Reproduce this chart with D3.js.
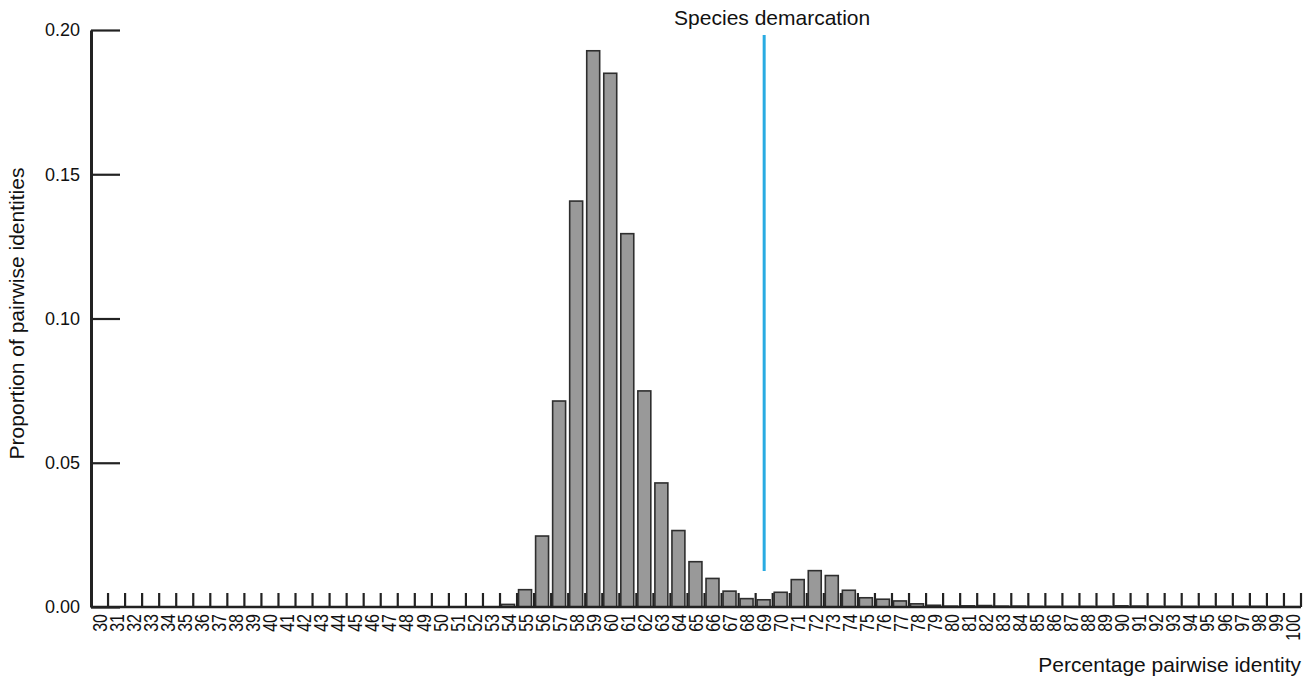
<!DOCTYPE html>
<html lang="en">
<head>
    <meta charset="UTF-8">
    <title>Pairwise identity</title>
    <script src="https://cdnjs.cloudflare.com/ajax/libs/d3/7.8.0/d3.min.js"></script>
    <style>
        body { margin: 0; background: #fff; }
        text { font-family: "Liberation Sans", Arial, sans-serif; fill: #111; }
    </style>
</head>
<body>
    <svg id="viz" width="1314" height="684"></svg>
    <script>
        // percentage identity categories 30..100
        const identities = d3.range(30, 101);
        // proportion of pairwise identities
        const proportions = [
            0, 0, 0, 0, 0, 0, 0, 0, 0, 0,              // 30-39
            0, 0, 0, 0, 0, 0, 0, 0, 0, 0,              // 40-49
            0, 0, 0, 0, 0.0009, 0.006, 0.0246, 0.0714, 0.1407, 0.1928, // 50-59
            0.185, 0.1294, 0.0749, 0.043, 0.0265, 0.0157, 0.0099, 0.0055, 0.0029, 0.0025, // 60-69
            0.0051, 0.0095, 0.0126, 0.0109, 0.0058, 0.0032, 0.0027, 0.0021, 0.0011, 0.0006, // 70-79
            0.0003, 0.0004, 0.0005, 0.0003, 0.0003, 0.0002, 0.0002, 0.0002, 0.0002, 0.0002, // 80-89
            0.0004, 0.0003, 0.0002, 0.0002, 0.0002, 0.0002, 0.0002, 0.0002, 0.0002, 0.0001, // 90-99
            0.0001                                      // 100
        ];
        const yTicks = [0, 0.05, 0.10, 0.15, 0.20];
        const demarcation = 69;

        const data = identities.map((k, i) => ({ k: k, v: proportions[i] }));

        const svg = d3.select('#viz');
        const mLeft = 91, mRight = 1301, mTop = 30, base = 607;

        const x = d3.scaleBand().domain(identities).range([mLeft, mRight]).padding(0);
        const y = d3.scaleLinear().domain([0, 0.2]).range([base, mTop]);
        const bw = x.bandwidth();

        // x ticks at band edges
        svg.append('g').selectAll('line')
            .data(identities)
            .join('line')
            .attr('x1', d => x(d) + bw).attr('x2', d => x(d) + bw)
            .attr('y1', base).attr('y2', base - 14)
            .attr('stroke', '#222').attr('stroke-width', 2.2);

        // bars
        svg.append('g').selectAll('rect')
            .data(data)
            .join('rect')
            .attr('x', d => x(d.k) + 1.5)
            .attr('width', bw * 0.76)
            .attr('y', d => y(d.v))
            .attr('height', d => base - y(d.v))
            .attr('fill', '#999999')
            .attr('stroke', '#2e2e2e')
            .attr('stroke-width', 1.6);

        // x baseline
        svg.append('line')
            .attr('x1', mLeft).attr('x2', mRight)
            .attr('y1', base).attr('y2', base)
            .attr('stroke', '#222').attr('stroke-width', 2.5);

        // y axis
        const yAxis = d3.axisLeft(y)
            .tickValues(yTicks)
            .tickSizeInner(-29)
            .tickSizeOuter(0)
            .tickPadding(11)
            .tickFormat(d3.format('.2f'));
        const gy = svg.append('g').attr('transform', 'translate(' + mLeft + ',0)').call(yAxis);
        gy.select('.domain').attr('stroke', '#222').attr('stroke-width', 3);
        gy.selectAll('.tick line').attr('stroke', '#222').attr('stroke-width', 2.2);
        gy.selectAll('.tick text')
            .attr('font-size', 18)
            .attr('font-family', '"Liberation Sans", Arial, sans-serif')
            .attr('fill', '#111');

        // x tick labels, rotated and a bit condensed
        svg.append('g').selectAll('text')
            .data(identities)
            .join('text')
            .attr('transform', d => 'translate(' + (x(d) + bw / 2) + ',614) rotate(-90) scale(0.8,1)')
            .attr('text-anchor', 'end')
            .attr('dy', '0.36em')
            .attr('font-size', 20)
            .text(d => d);

        // species demarcation line
        svg.append('line')
            .attr('x1', x(demarcation) + bw / 2).attr('x2', x(demarcation) + bw / 2)
            .attr('y1', 35).attr('y2', 571)
            .attr('stroke', '#29abe2').attr('stroke-width', 3);

        svg.append('text')
            .attr('x', x(demarcation) + bw / 2 + 8)
            .attr('y', 25)
            .attr('text-anchor', 'middle')
            .attr('font-size', 21)
            .text('Species demarcation');

        // axis titles
        svg.append('text')
            .attr('x', mRight)
            .attr('y', 672)
            .attr('text-anchor', 'end')
            .attr('font-size', 21)
            .text('Percentage pairwise identity');

        svg.append('text')
            .attr('transform', 'translate(24,' + (y(0.1) - 5) + ') rotate(-90)')
            .attr('text-anchor', 'middle')
            .attr('font-size', 21)
            .text('Proportion of pairwise identities');
    </script>
</body>
</html>
